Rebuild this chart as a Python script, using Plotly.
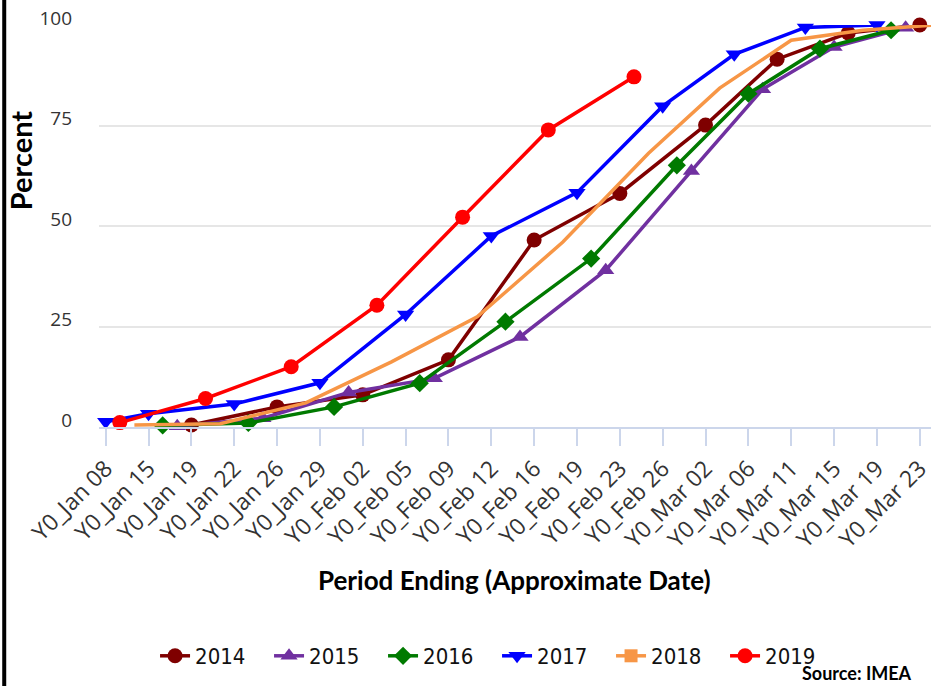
import plotly.graph_objects as go

# Tick labels (category positions 0..19)
tick_labels = ["Y0_Jan 08", "Y0_Jan 15", "Y0_Jan 19", "Y0_Jan 22", "Y0_Jan 26", "Y0_Jan 29",
               "Y0_Feb 02", "Y0_Feb 05", "Y0_Feb 09", "Y0_Feb 12", "Y0_Feb 16", "Y0_Feb 19",
               "Y0_Feb 23", "Y0_Feb 26", "Y0_Mar 02", "Y0_Mar 06", "Y0_Mar 11", "Y0_Mar 15",
               "Y0_Mar 19", "Y0_Mar 23"]
tick_positions = list(range(len(tick_labels)))

# Series (x in tick-position units, y in percent)
x_2014 = [2.0, 4.0, 6.0, 8.0, 10.0, 12.0, 14.0, 15.67, 17.33, 19.0]
y_2014 = [0.5, 5.0, 8.0, 16.7, 46.5, 58.1, 75.1, 91.5, 98.0, 100.0]

x_2015 = [1.67, 3.67, 5.67, 7.67, 9.67, 11.67, 13.67, 15.33, 17.0, 18.67]
y_2015 = [0.2, 2.2, 8.6, 12.1, 22.4, 39.0, 63.7, 84.0, 94.5, 99.3]

x_2016 = [1.33, 3.33, 5.33, 7.33, 9.33, 11.33, 13.33, 15.0, 16.67, 18.33]
y_2016 = [0.4, 1.0, 5.0, 10.9, 26.2, 41.9, 65.1, 82.9, 94.1, 98.7]

x_2017 = [0.0, 1.0, 3.0, 5.0, 7.0, 9.0, 11.0, 13.0, 14.67, 16.33, 18.0]
y_2017 = [1.3, 3.3, 5.7, 11.0, 28.0, 47.5, 58.3, 79.8, 92.7, 99.4, 100.0]

x_2018 = [0.67, 2.67, 4.67, 6.67, 8.67, 10.67, 12.67, 14.33, 16.0, 17.67, 19.33]
y_2018 = [0.5, 0.8, 6.0, 16.2, 27.4, 46.0, 68.1, 84.3, 96.2, 98.7, 100.0]

x_2019 = [0.33, 2.33, 4.33, 6.33, 8.33, 10.33, 12.33]
y_2019 = [1.1, 7.1, 15.0, 30.3, 52.2, 73.9, 87.1]

series = [
    ("2014", x_2014, y_2014, "#7F0000", "circle", 15, True),
    ("2015", x_2015, y_2015, "#7030A0", "triangle-up", 15, True),
    ("2016", x_2016, y_2016, "#007A00", "diamond", 14, True),
    ("2017", x_2017, y_2017, "#0000FF", "triangle-down", 15, True),
    ("2018", x_2018, y_2018, "#F79646", "square", 13, False),
    ("2019", x_2019, y_2019, "#FF0000", "circle", 15, True),
]

fig = go.Figure()
for name, xs, ys, color, symbol, size, show_markers in series:
    if show_markers:
        fig.add_trace(go.Scatter(
            x=xs, y=ys, name=name, mode="lines+markers",
            line=dict(color=color, width=3.5),
            marker=dict(color=color, symbol=symbol, size=size),
            cliponaxis=False,
        ))
    else:
        fig.add_trace(go.Scatter(
            x=xs, y=ys, name=name, mode="lines", showlegend=False,
            line=dict(color=color, width=3.5), cliponaxis=False,
        ))
        fig.add_trace(go.Scatter(
            x=[None], y=[None], name=name, mode="lines+markers",
            line=dict(color=color, width=3.5),
            marker=dict(color=color, symbol=symbol, size=size),
        ))

L, R, T, B = 99, 0, 25, 259
W, H = 933, 686
pw = W - L - R
ph = H - T - B

fig.update_layout(
    width=W, height=H,
    margin=dict(l=L, r=R, t=T, b=B, pad=0),
    paper_bgcolor="white", plot_bgcolor="white",
    showlegend=True,
    legend=dict(
        orientation="h", x=(498 - L) / pw, xanchor="center", y=(427 - 656) / ph, yanchor="middle",
        font=dict(family="Liberation Sans Narrow, DejaVu Sans Condensed, Arial", size=22, color="#111111"),
        itemwidth=30, traceorder="normal", entrywidth=69, entrywidthmode="pixels",
    ),
    xaxis=dict(
        range=[-0.156, 19.262],
        tickmode="array", tickvals=tick_positions, ticktext=tick_labels,
        tickangle=-45, ticklabeloverflow="allow",
        tickfont=dict(family="Open Sans", size=23, color="#333333"),
        ticks="outside", ticklen=17, tickcolor="#ccd6eb", tickwidth=1.5,
        showline=True, linecolor="#ccd6eb", linewidth=2,
        showgrid=False, zeroline=False,
    ),
    yaxis=dict(
        range=[0, 100],
        tickvals=[0, 25, 50, 75, 100],
        tickfont=dict(family="Open Sans", size=19, color="#333333"),
        ticklabelstandoff=26, ticklabelshift=-7,
        showgrid=True, gridcolor="#e6e6e6", gridwidth=1.5,
        zeroline=False, showline=False,
    ),
    font=dict(family="Open Sans"),
)

fig.add_annotation(
    text="<b>Percent</b>", xref="paper", yref="paper",
    x=(20 - L) / pw, y=(427 - 160) / ph, textangle=-90,
    showarrow=False, font=dict(family="Lato", size=29, color="black"),
    xanchor="center", yanchor="middle",
)
fig.add_annotation(
    text="<b>Period Ending (Approximate Date)</b>", xref="paper", yref="paper",
    x=(515 - L) / pw, y=(427 - 580) / ph,
    showarrow=False, font=dict(family="Lato", size=26, color="black"),
    xanchor="center", yanchor="middle",
)
fig.add_annotation(
    text="<b>Source: IMEA</b>", xref="paper", yref="paper",
    x=(916 - L) / pw, y=(427 - 673) / ph,
    showarrow=False, font=dict(family="Lato", size=18, color="black"),
    xanchor="right", yanchor="middle",
)
fig.add_shape(
    type="line", xref="paper", yref="paper",
    x0=(4 - L) / pw, x1=(4 - L) / pw, y0=(427 - 0) / ph, y1=(427 - 686) / ph,
    line=dict(color="black", width=4),
)

fig.write_html("out.html", config={"displayModeBar": False},
               post_script="document.body.style.margin='0px';")
